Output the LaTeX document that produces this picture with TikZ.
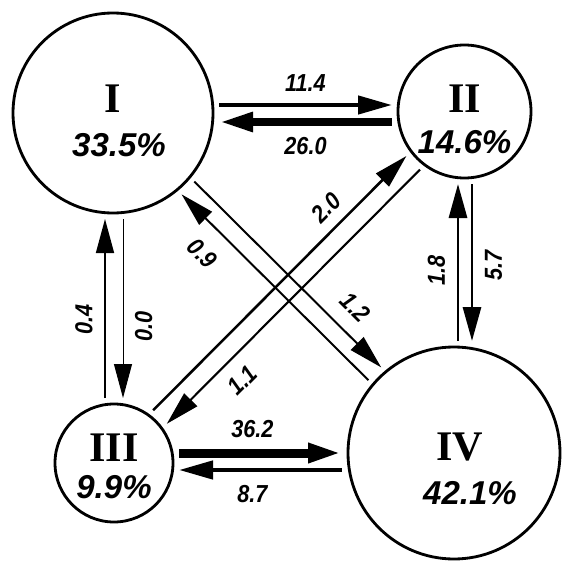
\documentclass[tikz,border=0pt]{standalone}
\usepackage{fontspec}
\setmainfont{Liberation Serif}
\newfontfamily\arialfont{Liberation Sans}
\newfontfamily\narrowfont{Liberation Sans}[FakeStretch=0.88]
\usetikzlibrary{arrows.meta}
\begin{document}
\begin{tikzpicture}[>={Triangle[length=0.85cm,width=0.45cm]},
   state/.style={draw,circle,line width=2pt,outer sep=0.15cm,inner sep=0pt},
   numeral/.style={font=\fontsize{30}{30}\selectfont\bfseries,inner sep=0pt},
   share/.style={font=\arialfont\fontsize{23.5}{24}\selectfont\bfseries\itshape,inner sep=0pt},
   rate/.style={font=\narrowfont\fontsize{17.5}{18}\selectfont\bfseries\itshape,inner sep=0pt,sloped,allow upside down}]
   \useasboundingbox (0,0) rectangle (14.4,14.275);
   % the four groups
   \node[state,minimum size=5cm] (I) at (2.825,11.45) {};
   \node[state,minimum size=3.325cm] (II) at (11.6125,11.4875) {};
   \node[state,minimum size=2.95cm] (III) at (2.85,2.7) {};
   \node[state,minimum size=5.3cm] (IV) at (11.35,2.95) {};
   \node[numeral] (Inum) at ([yshift=3.5mm]I.center) {I};
   \node[share] (Ishare) at ([xshift=1.5mm,yshift=-8mm]I.center) {33.5\%};
   \node[numeral] (IInum) at ([yshift=3.1mm]II.center) {II};
   \node[share] (IIshare) at ([yshift=-7.6mm]II.center) {14.6\%};
   \node[numeral] (IIInum) at ([yshift=3.75mm]III.center) {III};
   \node[share] (IIIshare) at ([yshift=-6mm]III.center) {9.9\%};
   \node[numeral] (IVnum) at ([xshift=1.5mm,yshift=1.5mm]IV.center) {IV};
   \node[share] (IVshare) at ([xshift=4mm,yshift=-10mm]IV.center) {42.1\%};
   % I <-> II
   \draw[->,line width=3.2pt] ([yshift=2mm]I.east) -- ([yshift=2mm]I.east -| II.west)
     node[rate,midway,above=8pt] (r114) {11.4};
   \draw[<-,line width=5.7pt] ([yshift=-2.25mm]I.east) -- ([yshift=-2.25mm]I.east -| II.west)
     node[rate,midway,below=8pt] (r260) {26.0};
   % III <-> IV
   \draw[->,line width=6.4pt] ([yshift=2.5mm]III.east) -- ([yshift=2.5mm]III.east -| IV.west)
     node[rate,pos=0.45,above=8pt] (r362) {36.2};
   \draw[<-,line width=3.2pt] ([yshift=-1.75mm]III.east) -- ([yshift=-1.75mm]III.east -| IV.west)
     node[rate,pos=0.45,below=9.5pt] (r87) {8.7};
   % I <-> III
   \draw[->,line width=1.1pt] ([xshift=-2mm]I.south |- III.north) -- ([xshift=-2mm]I.south)
     node[rate,pos=0.44,above=8.2pt] (r04) {0.4};
   \draw[<-,line width=0.7pt] ([xshift=2.5mm]I.south |- III.north) -- ([xshift=2.5mm]I.south)
     node[rate,pos=0.4,below=8.2pt] (r00) {0.0};
   % II <-> IV
   \draw[->,line width=2.1pt] ([xshift=-1.625mm]II.south |- IV.north) -- ([xshift=-1.625mm]II.south)
     node[rate,pos=0.45,above=8.2pt] (r18) {1.8};
   \draw[<-,line width=2.1pt] ([xshift=1.875mm]II.south |- IV.north) -- ([xshift=1.875mm]II.south)
     node[rate,pos=0.48,below=8.2pt] (r57) {5.7};
   % I <-> IV
   \draw[->,line width=1.4pt] ([xshift=1.6mm,yshift=1.6mm]I.-45) -- ([xshift=1.6mm,yshift=1.6mm]IV.135)
     node[rate,pos=0.77,above=10.5pt] (r12) {1.2};
   \draw[<-,line width=1.4pt] ([xshift=-1.6mm,yshift=-1.6mm]I.-45) -- ([xshift=-1.6mm,yshift=-1.6mm]IV.135)
     node[rate,pos=0.214,below=12.5pt] (r09) {0.9};
   % III <-> II
   \draw[->,line width=1.8pt] ([xshift=-1.7mm,yshift=1.7mm]III.45) -- ([xshift=-1.7mm,yshift=1.7mm]II.225)
     node[rate,pos=0.74,above=7.5pt] (r20) {2.0};
   \draw[<-,line width=1.5pt] ([xshift=1.7mm,yshift=-1.7mm]III.45) -- ([xshift=1.7mm,yshift=-1.7mm]II.225)
     node[rate,pos=0.235,below=9.5pt] (r11) {1.1};
\end{tikzpicture}
\end{document}
